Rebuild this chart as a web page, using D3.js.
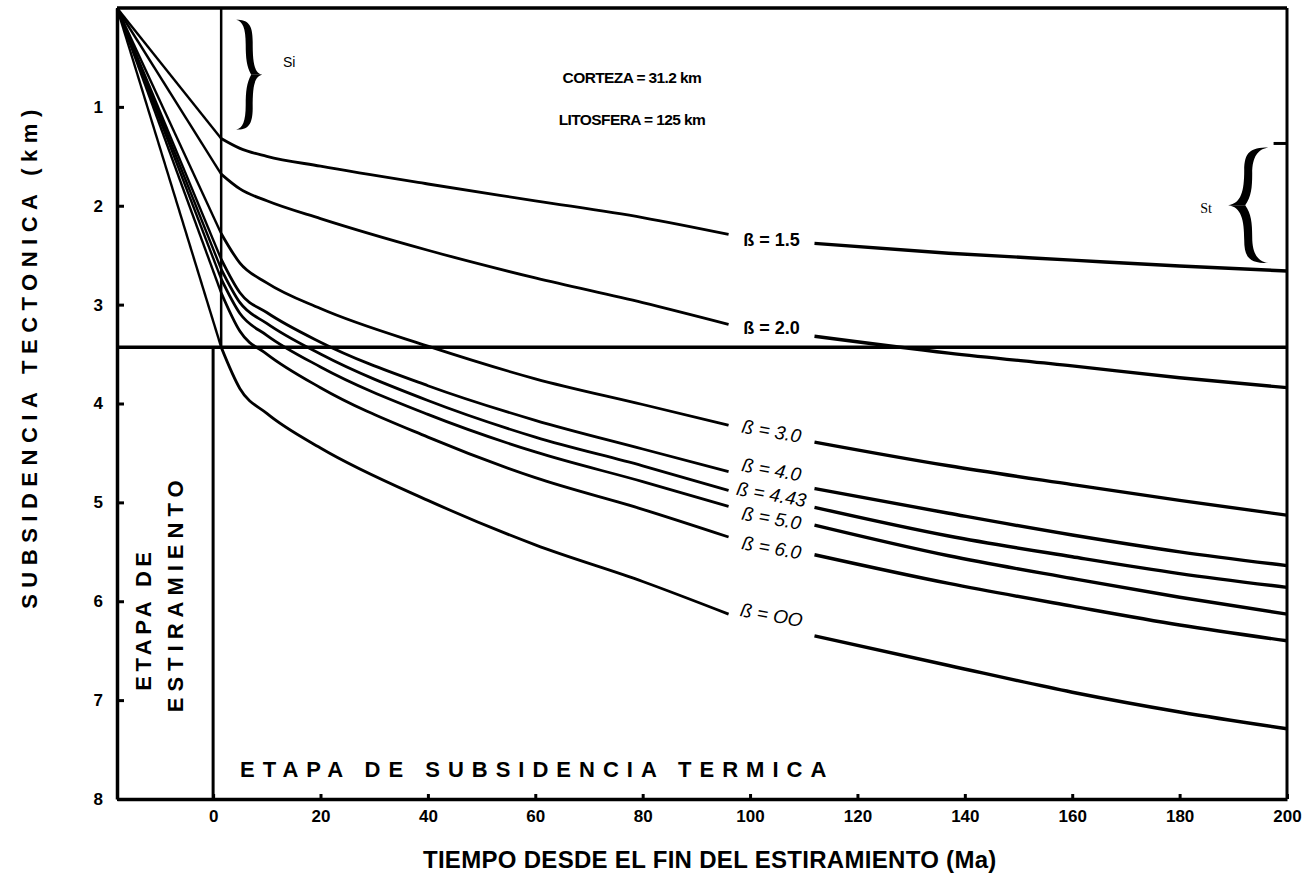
<!DOCTYPE html>
<html>
<head>
<meta charset="utf-8">
<script src="https://cdn.jsdelivr.net/npm/d3@7"></script>
<style>
  body { margin: 0; background: #fff; }
  text { font-family: "Liberation Sans", Arial, sans-serif; fill: #000; }
</style>
</head>
<body>
<div id="chart"></div>
<script>
// beta values of each curve (label text as drawn)
var betas = ["1.5", "2.0", "3.0", "4.0", "4.43", "5.0", "6.0", "OO"];

// rift stage: from start of stretching to end of stretching (Ma)
var riftTime = [-17.9, 1.5];
// initial subsidence Si reached at end of stretching (km)
var subsInit = [1.32, 1.68, 2.28, 2.54, 2.64, 2.74, 2.88, 3.43];

// thermal stage, left part (before the labels) and right part (after the labels)
var timeA = [5, 10, 20, 40, 60, 80, 96];
var timeB = [112, 137, 160, 180, 200];

var subsA = [
  [1.42, 1.50, 1.60, 1.78, 1.95, 2.12, 2.29],
  [1.83, 1.95, 2.13, 2.45, 2.73, 2.98, 3.20],
  [2.58, 2.78, 3.04, 3.42, 3.75, 4.01, 4.22],
  [2.88, 3.08, 3.38, 3.82, 4.17, 4.46, 4.69],
  [2.98, 3.19, 3.50, 3.97, 4.34, 4.63, 4.88],
  [3.09, 3.31, 3.63, 4.11, 4.49, 4.79, 5.04],
  [3.27, 3.50, 3.84, 4.34, 4.75, 5.07, 5.35],
  [3.85, 4.10, 4.45, 4.98, 5.43, 5.80, 6.13]
];
var subsB = [
  [2.38, 2.48, 2.55, 2.61, 2.66],
  [3.32, 3.49, 3.62, 3.74, 3.84],
  [4.39, 4.63, 4.82, 4.98, 5.13],
  [4.86, 5.11, 5.33, 5.50, 5.64],
  [5.05, 5.34, 5.55, 5.72, 5.86],
  [5.23, 5.54, 5.77, 5.96, 6.13],
  [5.53, 5.82, 6.05, 6.24, 6.40],
  [6.35, 6.65, 6.92, 7.12, 7.29]
];

// label positions (Ma, km)
var labelTime = [104, 104, 104, 104, 104, 104, 104, 104];
var labelSubs = [2.35, 3.24, 4.28, 4.67, 4.92, 5.16, 5.46, 6.14];

var siLine = 3.43;            // horizontal line: max initial subsidence
var xTicks = [0, 20, 40, 60, 80, 100, 120, 140, 160, 180, 200];
var yTicks = [1, 2, 3, 4, 5, 6, 7, 8];

var svgWidth = 1312;
var svgHeight = 878;
var margin = { top: 8, right: 25, bottom: 79, left: 117 };
var width = svgWidth - margin.left - margin.right;
var height = svgHeight - margin.top - margin.bottom;

var svg = d3.select("#chart")
  .append("svg")
  .attr("width", svgWidth)
  .attr("height", svgHeight);

var chart = svg.append("g")
  .attr("transform", `translate(${margin.left}, ${margin.top})`);

var xScale = d3.scaleLinear().domain([-17.9, 200]).range([0, width]);
var yScale = d3.scaleLinear().domain([0, 8]).range([0, height]);

// axes
var bottomAxis = d3.axisBottom(xScale).tickValues(xTicks).tickSize(-5).tickSizeOuter(0).tickPadding(11);
var leftAxis = d3.axisLeft(yScale).tickValues(yTicks).tickSize(-7).tickSizeOuter(0).tickPadding(14);

var gx = chart.append("g")
  .attr("transform", `translate(0, ${height})`)
  .call(bottomAxis);
var gy = chart.append("g").call(leftAxis);

[gx, gy].forEach(function(g) {
  g.select(".domain").attr("stroke-width", 3.5);
  g.selectAll(".tick line").attr("stroke-width", 3);
  g.selectAll(".tick text")
    .style("font-size", "17px")
    .style("font-weight", "bold")
    .attr("fill", "#000");
});

// frame top and right
chart.append("line")
  .attr("x1", 0).attr("x2", width).attr("y1", 0).attr("y2", 0)
  .attr("stroke", "#000").attr("stroke-width", 3.5);
chart.append("line")
  .attr("x1", width).attr("x2", width).attr("y1", 0).attr("y2", height)
  .attr("stroke", "#000").attr("stroke-width", 3);

// end-of-stretching vertical lines and Si horizontal line
chart.append("line")
  .attr("x1", xScale(1.5)).attr("x2", xScale(1.5))
  .attr("y1", 0).attr("y2", yScale(siLine))
  .attr("stroke", "#000").attr("stroke-width", 2.5);
chart.append("line")
  .attr("x1", xScale(0)).attr("x2", xScale(0))
  .attr("y1", yScale(siLine)).attr("y2", height)
  .attr("stroke", "#000").attr("stroke-width", 3);
chart.append("line")
  .attr("x1", 0).attr("x2", width)
  .attr("y1", yScale(siLine)).attr("y2", yScale(siLine))
  .attr("stroke", "#000").attr("stroke-width", 3.5);

// curves
var straight = d3.line().x(d => xScale(d[0])).y(d => yScale(d[1]));
var smooth = d3.line().x(d => xScale(d[0])).y(d => yScale(d[1])).curve(d3.curveMonotoneX);

betas.forEach(function(b, i) {
  var rift = [[riftTime[0], 0], [riftTime[1], subsInit[i]]];
  var partA = [[riftTime[1], subsInit[i]]].concat(timeA.map((t, j) => [t, subsA[i][j]]));
  var partB = timeB.map((t, j) => [t, subsB[i][j]]);

  chart.append("path").datum(rift)
    .attr("d", straight).attr("fill", "none")
    .attr("stroke", "#000").attr("stroke-width", 2.4);
  chart.append("path").datum(partA)
    .attr("d", smooth).attr("fill", "none")
    .attr("stroke", "#000").attr("stroke-width", 2.8);
  chart.append("path").datum(partB)
    .attr("d", smooth).attr("fill", "none")
    .attr("stroke", "#000").attr("stroke-width", 3.4);

  var lbl = chart.append("text")
    .attr("text-anchor", "middle")
    .attr("dominant-baseline", "central")
    .style("font-size", "18px")
    .text("ß = " + b);
  if (i < 2) {
    lbl.attr("x", xScale(labelTime[i])).attr("y", yScale(labelSubs[i]))
      .style("font-weight", "bold");
  } else {
    lbl.attr("transform", `translate(${xScale(labelTime[i])}, ${yScale(labelSubs[i])}) rotate(10)`)
      .style("font-style", "italic")
      .style("font-size", "19px");
  }
});

// braces (filled, calligraphic)
function braceHalf(w, H, t) {
  var c = w * 0.5;
  return `M0,0 C${c * 0.9},0 ${c + t / 2},${H * 0.08} ${c + t / 2},${H * 0.4}` +
    ` C${c + t / 2},${H * 0.75} ${c + (w - c) * 0.35},${H * 0.97} ${w},${H}` +
    ` L${c + (w - c) * 0.15},${H}` +
    ` C${c - t / 2 + 1},${H * 0.85} ${c - t / 2},${H * 0.7} ${c - t / 2},${H * 0.45}` +
    ` C${c - t / 2},${H * 0.15} ${c * 0.5},${H * 0.03} 0,0 Z`;
}
function drawBrace(xEnd, yTop, yBot, w, t, dir) {
  var H = (yBot - yTop) / 2;
  var g = chart.append("g").attr("transform", `translate(${xEnd}, ${yTop}) scale(${dir}, 1)`);
  var p = braceHalf(w, H, t);
  g.append("path").attr("d", p).attr("fill", "#000");
  g.append("path").attr("d", p).attr("fill", "#000")
    .attr("transform", `translate(0, ${2 * H}) scale(1, -1)`);
}
drawBrace(xScale(4.3), yScale(0.12), yScale(1.23), 26, 7, 1);
drawBrace(xScale(196.5), yScale(1.41), yScale(2.58), 40, 8, -1);

chart.append("line")
  .attr("x1", xScale(197.5)).attr("x2", xScale(200))
  .attr("y1", yScale(1.37)).attr("y2", yScale(1.37))
  .attr("stroke", "#000").attr("stroke-width", 3);

chart.append("text")
  .attr("x", xScale(13)).attr("y", yScale(0.6))
  .style("font-size", "14px")
  .text("Si");
chart.append("text")
  .attr("x", xScale(186)).attr("y", yScale(2.07))
  .attr("text-anchor", "end")
  .style("font-size", "14px")
  .style("font-family", "Liberation Serif, serif")
  .text("St");

// crust / lithosphere annotation
chart.append("text")
  .attr("x", xScale(78)).attr("y", yScale(0.76))
  .attr("text-anchor", "middle")
  .style("font-size", "15.5px").style("font-weight", "bold").style("letter-spacing", "-0.6px")
  .text("CORTEZA = 31.2 km");
chart.append("text")
  .attr("x", xScale(78)).attr("y", yScale(1.18))
  .attr("text-anchor", "middle")
  .style("font-size", "15.5px").style("font-weight", "bold").style("letter-spacing", "-0.6px")
  .text("LITOSFERA = 125 km");

// stage labels
chart.append("text")
  .attr("transform", `translate(${xScale(-11.6)}, ${yScale(6.18)}) rotate(-90)`)
  .attr("text-anchor", "middle")
  .style("font-size", "22px").style("font-weight", "bold").style("letter-spacing", "4.5px")
  .text("ETAPA DE");
chart.append("text")
  .attr("transform", `translate(${xScale(-5.6)}, ${yScale(5.92)}) rotate(-90)`)
  .attr("text-anchor", "middle")
  .style("font-size", "22px").style("font-weight", "bold").style("letter-spacing", "6px")
  .text("ESTIRAMIENTO");
chart.append("text")
  .attr("x", xScale(5)).attr("y", yScale(7.78))
  .style("font-size", "22px").style("font-weight", "bold").style("letter-spacing", "8px")
  .text("ETAPA DE SUBSIDENCIA TERMICA");

// axis titles
svg.append("text")
  .attr("transform", `translate(37, ${margin.top + yScale(3.52)}) rotate(-90)`)
  .attr("text-anchor", "middle")
  .style("font-size", "22px").style("font-weight", "bold").style("letter-spacing", "6.5px")
  .text("SUBSIDENCIA TECTONICA (km)");
svg.append("text")
  .attr("x", margin.left + xScale(92.5)).attr("y", 868)
  .attr("text-anchor", "middle")
  .style("font-size", "24px").style("font-weight", "bold").style("letter-spacing", "0.3px")
  .text("TIEMPO DESDE EL FIN DEL ESTIRAMIENTO (Ma)");
</script>
</body>
</html>
